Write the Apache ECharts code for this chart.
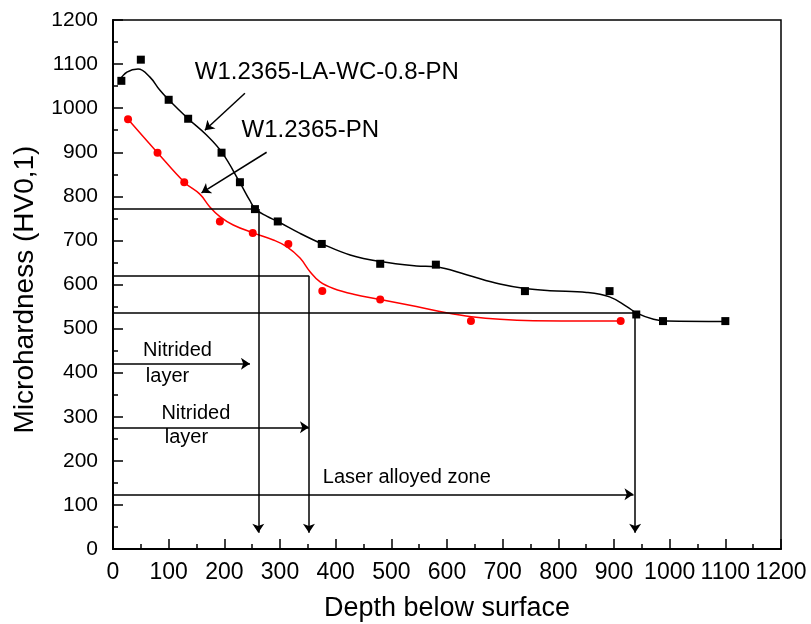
<!DOCTYPE html>
<html>
<head>
<meta charset="utf-8">
<script src="https://cdn.jsdelivr.net/npm/echarts@6/dist/echarts.min.js"></script>
<style>
html,body{margin:0;padding:0;background:#fff;}
#chart{width:811px;height:624px;}
</style>
</head>
<body>
<div id="chart"></div>
<script>
// measured points
const depthBlack = [15, 50, 100, 135, 195, 228, 255, 296, 375, 480, 580, 740, 892, 940, 988, 1100];
const hardBlack  = [1062, 1110, 1019, 976, 899, 832, 771, 743, 692, 647, 645, 585, 585, 532, 517, 517];
const depthRed = [27, 80, 128, 192, 251, 315, 376, 480, 643, 912];
const hardRed  = [975, 899, 832, 743, 717, 692, 585, 566, 517, 517];

// fitted curves
const curveBlackX = [12, 25, 45, 66, 84, 100, 135, 168, 196, 228, 246, 256, 276, 296, 336, 376, 426, 480, 545, 580, 635, 695, 740, 785, 851, 892, 923, 941, 971, 995, 1100];
const curveBlackY = [1064, 1082, 1089, 1071, 1041, 1019, 976, 939, 899, 831, 790, 771, 755, 743, 716, 692, 667, 652, 642, 640, 622, 601, 591, 586, 582, 572, 550, 535, 521, 517, 516];
const curveRedX = [27, 80, 129, 156, 174, 192, 216, 252, 288, 312, 336, 354, 372, 396, 432, 480, 545, 599, 644, 695, 755, 912];
const curveRedY = [975, 899, 831, 805, 776, 754, 735, 717, 701, 686, 660, 629, 606, 591, 578, 566, 550, 536, 527, 521, 518, 517];

// x / y tick values
const xTicks = [0, 100, 200, 300, 400, 500, 600, 700, 800, 900, 1000, 1100, 1200];
const yTicks = [0, 100, 200, 300, 400, 500, 600, 700, 800, 900, 1000, 1100, 1200];

// annotation lines: [x1, y1, x2, y2, arrow]
const guideLines = [
  [0, 771, 258, 771, 0],
  [261, 771, 261, 37, 1],
  [0, 620, 352, 620, 0],
  [352, 620, 352, 37, 1],
  [0, 536, 938, 536, 0],
  [938, 536, 938, 37, 1],
  [0, 420, 246, 420, 1],
  [0, 276, 352, 276, 1],
  [0, 124, 935, 124, 1],
  [237, 1034, 165, 950, 1],
  [276, 900, 159, 808, 1]
];

// annotation texts: [x, y, text, fontSize]
const notes = [
  [147, 1081, 'W1.2365-LA-WC-0.8-PN', 24],
  [231, 949, 'W1.2365-PN', 24],
  [54, 451, 'Nitrided', 20],
  [59, 392, 'layer', 20],
  [87, 308, 'Nitrided', 20],
  [93, 252, 'layer', 20],
  [377, 163, 'Laser alloyed zone', 20]
];

const FONT = '"Liberation Sans", Arial, sans-serif';
const chart = echarts.init(document.getElementById('chart'), null, {renderer: 'canvas'});

const zip = (a, b) => a.map((v, i) => [v, b[i]]);

const option = {
  animation: false,
  backgroundColor: '#fff',
  grid: {left: 113, right: 30, top: 20, bottom: 75, show: true, borderColor: '#000', borderWidth: 1.5,
    backgroundColor: 'transparent', containLabel: false, outerBoundsMode: 'none'},
  xAxis: {
    type: 'value', min: xTicks[0], max: xTicks[xTicks.length - 1], interval: 100,
    name: 'Depth below surface', nameLocation: 'middle', nameGap: 46,
    nameTextStyle: {fontFamily: FONT, fontSize: 27, color: '#000'},
    axisLine: {show: true, onZero: false, lineStyle: {color: '#000', width: 2}},
    axisTick: {show: true, inside: true, length: 10, lineStyle: {color: '#000', width: 1.5}},
    minorTick: {show: true, splitNumber: 2, length: 5, lineStyle: {color: '#000', width: 1.5}},
    axisLabel: {fontFamily: FONT, fontSize: 23, color: '#000', margin: 12, hideOverlap: false,
      showMinLabel: true, showMaxLabel: true, formatter: v => String(v)},
    splitLine: {show: false}
  },
  yAxis: {
    type: 'value', min: yTicks[0], max: yTicks[yTicks.length - 1], interval: 100,
    name: 'Microhardness (HV0,1)', nameLocation: 'middle', nameGap: 74,
    nameTextStyle: {fontFamily: FONT, fontSize: 28, color: '#000', padding: [0, 10, 0, 0]},
    axisLine: {show: true, onZero: false, lineStyle: {color: '#000', width: 2}},
    axisTick: {show: true, inside: true, length: 10, lineStyle: {color: '#000', width: 1.5}},
    minorTick: {show: true, splitNumber: 2, length: 5, lineStyle: {color: '#000', width: 1.5}},
    axisLabel: {fontFamily: FONT, fontSize: 21, color: '#000', margin: 15,
      showMinLabel: true, showMaxLabel: true, formatter: v => String(v)},
    splitLine: {show: false}
  },
  series: [
    {
      type: 'line', data: zip(curveBlackX, curveBlackY), smooth: 0.4, showSymbol: false,
      lineStyle: {color: '#000', width: 1.5}, z: 3
    },
    {
      type: 'line', data: zip(curveRedX, curveRedY), smooth: 0.4, showSymbol: false,
      lineStyle: {color: '#ff0000', width: 1.5}, z: 3
    },
    {
      type: 'scatter', data: zip(depthBlack, hardBlack), symbol: 'rect', symbolSize: 8,
      itemStyle: {color: '#000', opacity: 1}, z: 5
    },
    {
      type: 'scatter', data: zip(depthRed, hardRed), symbol: 'circle', symbolSize: 8,
      itemStyle: {color: '#ff0000', opacity: 1}, z: 5
    },
    {
      type: 'lines', coordinateSystem: 'cartesian2d', z: 4,
      data: guideLines.map(g => ({
        coords: [[g[0], g[1]], [g[2], g[3]]],
        symbol: g[4] ? ['none', 'arrow'] : ['none', 'none'],
        symbolSize: 9
      })),
      lineStyle: {color: '#000', width: 1.5, opacity: 1}
    },
    {
      type: 'scatter', symbolSize: 0, z: 6, silent: true,
      itemStyle: {opacity: 1},
      data: notes.map(n => ({
        value: [n[0], n[1]],
        label: {show: true, position: 'right', distance: 0, formatter: n[2],
          fontFamily: FONT, fontSize: n[3], color: '#000'}
      }))
    }
  ]
};
chart.setOption(option);
</script>
</body>
</html>
